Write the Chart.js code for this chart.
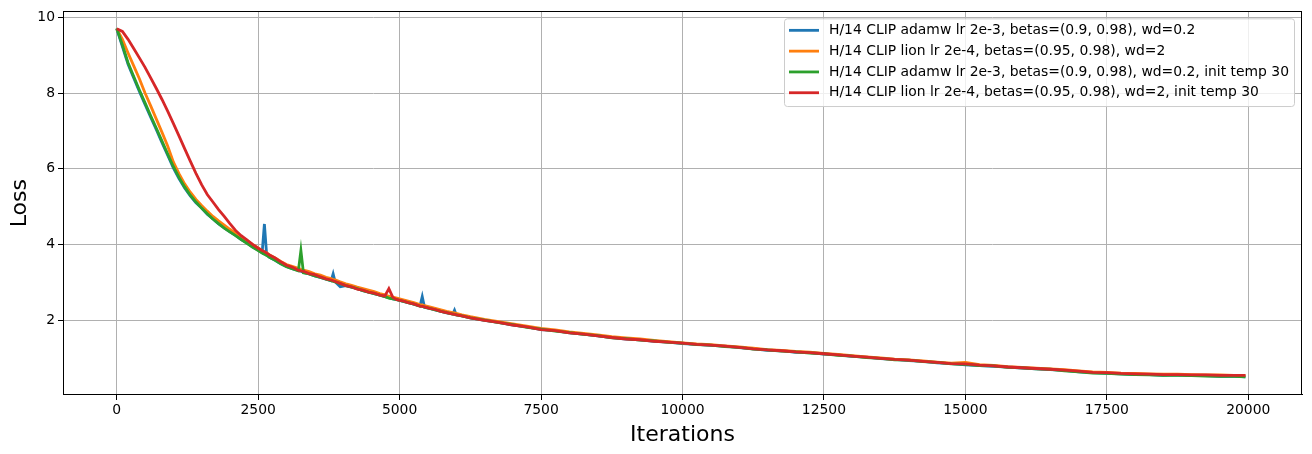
<!DOCTYPE html>
<html><head><meta charset="utf-8">
<script src="https://cdn.jsdelivr.net/npm/chart.js@4.4.1/dist/chart.umd.min.js"></script>
<style>html,body{margin:0;padding:0;background:#fff;}#wrap{width:1312px;height:454px;}</style>
</head><body><div id="wrap"><canvas id="c" width="1312" height="454"></canvas></div>
<script>
const iterations = [0,100,200,300,400,500,600,700,800,900,1000,1100,1200,1300,1400,1500,1600,1700,1800,1900,2000,2100,2200,2300,2400,2500,
2570,2610,2650,2700,2800,2900,3000,3100,3210,3255,3300,3400,3500,3600,3700,3790,3825,3860,3950,4050,4150,4250,4350,4450,4550,4650,4740,4810,4880,4950,5050,5150,5250,5360,5400,5440,5530,5630,5730,5830,5940,5970,6000,6100,6250,
6500,6750,7000,7250,7500,7750,8000,8250,8500,8750,9000,9250,9500,9750,10000,10250,10500,10750,11000,11250,11500,11750,12000,12250,12500,12750,13000,13250,13500,13750,14000,14250,14500,14750,15000,15250,15500,15750,16000,16250,16500,16750,17000,17250,17500,17750,18000,18250,18500,18750,19000,19250,19500,19750,19950];

const lossAdamw = [9.70,9.23,8.76,8.40,8.04,7.70,7.36,7.03,6.69,6.36,6.02,5.74,5.49,5.28,5.10,4.96,4.80,4.67,4.54,4.44,4.33,4.24,4.13,4.04,3.93,3.85,
3.78,4.54,3.72,3.66,3.58,3.49,3.42,3.36,3.31,3.29,3.26,3.22,3.17,3.13,3.08,3.04,3.22,3.01,2.88,2.91,2.87,2.83,2.78,2.74,2.70,2.66,2.62,2.59,2.56,2.54,2.50,2.46,2.42,2.37,2.62,2.34,2.31,2.27,2.23,2.19,2.16,2.26,2.14,2.11,2.06,
1.99,1.94,1.87,1.82,1.75,1.72,1.66,1.63,1.58,1.54,1.50,1.48,1.44,1.42,1.38,1.36,1.33,1.31,1.27,1.24,1.20,1.19,1.15,1.14,1.10,1.08,1.04,1.02,0.98,0.96,0.93,0.91,0.87,0.85,0.82,0.80,0.78,0.76,0.73,0.71,0.69,0.67,0.63,0.61,0.59,0.58,0.56,0.56,0.54,0.55,0.53,0.53,0.51,0.52,0.50];

const lossLion = [9.70,9.42,9.06,8.72,8.38,8.00,7.66,7.31,6.96,6.60,6.18,5.87,5.60,5.38,5.19,5.03,4.88,4.74,4.62,4.51,4.40,4.30,4.20,4.10,4.00,3.91,
3.83,3.80,3.78,3.72,3.64,3.55,3.47,3.42,3.37,3.34,3.32,3.28,3.22,3.19,3.13,3.10,3.07,3.06,3.01,2.96,2.92,2.87,2.83,2.79,2.75,2.70,2.67,2.63,2.61,2.58,2.54,2.50,2.46,2.41,2.40,2.38,2.35,2.31,2.27,2.23,2.20,2.19,2.18,2.14,2.09,
2.02,1.96,1.90,1.84,1.78,1.74,1.69,1.65,1.61,1.56,1.53,1.50,1.46,1.43,1.40,1.37,1.35,1.32,1.29,1.26,1.22,1.20,1.17,1.15,1.12,1.09,1.06,1.03,1.00,0.97,0.95,0.92,0.89,0.86,0.88,0.82,0.80,0.77,0.75,0.73,0.71,0.69,0.66,0.63,0.62,0.60,0.59,0.58,0.57,0.57,0.56,0.55,0.55,0.54,0.54];

const lossAdamwTemp = [9.71,9.27,8.80,8.44,8.08,7.74,7.40,7.07,6.73,6.39,6.06,5.77,5.52,5.30,5.12,4.96,4.81,4.67,4.55,4.43,4.33,4.23,4.13,4.03,3.93,3.84,
3.77,3.74,3.71,3.66,3.58,3.49,3.41,3.36,3.30,3.84,3.25,3.22,3.17,3.13,3.08,3.04,3.02,3.01,2.96,2.91,2.87,2.83,2.78,2.74,2.70,2.66,2.62,2.58,2.56,2.54,2.50,2.46,2.42,2.37,2.36,2.34,2.31,2.27,2.23,2.20,2.16,2.15,2.14,2.11,2.06,
2.00,1.93,1.88,1.81,1.76,1.71,1.67,1.62,1.59,1.53,1.51,1.47,1.45,1.41,1.39,1.35,1.34,1.30,1.28,1.23,1.21,1.18,1.16,1.13,1.11,1.07,1.05,1.01,0.99,0.95,0.94,0.90,0.88,0.84,0.83,0.80,0.79,0.75,0.74,0.71,0.70,0.66,0.63,0.60,0.59,0.57,0.56,0.55,0.54,0.54,0.53,0.52,0.51,0.51,0.50];

const lossLionTemp = [9.70,9.63,9.42,9.18,8.93,8.68,8.40,8.12,7.83,7.52,7.20,6.87,6.53,6.20,5.88,5.58,5.32,5.12,4.92,4.74,4.55,4.37,4.23,4.12,4.00,3.90,
3.84,3.81,3.77,3.72,3.64,3.54,3.45,3.40,3.32,3.30,3.29,3.23,3.20,3.14,3.09,3.06,3.04,3.02,2.97,2.91,2.88,2.82,2.79,2.74,2.71,2.66,2.64,2.83,2.60,2.54,2.51,2.46,2.43,2.37,2.36,2.35,2.31,2.28,2.23,2.20,2.16,2.15,2.14,2.11,2.06,
1.99,1.94,1.87,1.82,1.75,1.72,1.66,1.63,1.58,1.54,1.50,1.48,1.44,1.42,1.39,1.36,1.34,1.31,1.28,1.24,1.21,1.19,1.16,1.14,1.11,1.08,1.05,1.02,0.99,0.96,0.94,0.91,0.88,0.85,0.84,0.81,0.79,0.76,0.74,0.72,0.70,0.68,0.65,0.62,0.61,0.59,0.58,0.57,0.56,0.56,0.55,0.55,0.54,0.54,0.54];

const seriesLabels = [
  "H/14 CLIP adamw lr 2e-3, betas=(0.9, 0.98), wd=0.2",
  "H/14 CLIP lion lr 2e-4, betas=(0.95, 0.98), wd=2",
  "H/14 CLIP adamw lr 2e-3, betas=(0.9, 0.98), wd=0.2, init temp 30",
  "H/14 CLIP lion lr 2e-4, betas=(0.95, 0.98), wd=2, init temp 30"
];
const seriesColors = ["#1f77b4","#ff7f0e","#2ca02c","#d62728"];
const xTicks = [0,2500,5000,7500,10000,12500,15000,17500,20000];
const yTicks = [2,4,6,8,10];

const seriesValues = [lossAdamw, lossLion, lossAdamwTemp, lossLionTemp];
const FONT = '"DejaVu Sans", sans-serif';

const datasets = seriesValues.map((vals, k) => ({
  label: seriesLabels[k],
  data: iterations.map((x, i) => ({x: x, y: vals[i]})),
  borderColor: seriesColors[k],
  backgroundColor: seriesColors[k],
  borderWidth: 2.8,
  pointRadius: 0,
  tension: 0,
  fill: false,
  order: 3 - k
}));

const framePlugin = {
  id: 'frame',
  afterDatasetsDraw(chart) {
    const a = chart.chartArea, ctx = chart.ctx;
    ctx.save();
    ctx.strokeStyle = '#000';
    ctx.lineWidth = 1;
    ctx.strokeRect(Math.round(a.left) + 0.5, Math.round(a.top) + 0.5, Math.round(a.right - a.left) - 1, Math.round(a.bottom - a.top) - 1);
    ctx.restore();
  }
};

const legendPlugin = {
  id: 'mplLegend',
  afterDraw(chart) {
    const a = chart.chartArea, ctx = chart.ctx;
    ctx.save();
    ctx.font = '13.9px ' + FONT;
    let maxW = 0;
    seriesLabels.forEach(t => { maxW = Math.max(maxW, ctx.measureText(t).width); });
    const right = a.right - 8, top = a.top + 7;
    const textOff = 45, rowH = 20.8;
    const w = maxW + textOff + 5, h = rowH * 4 + 4.5;
    const left = right - w;
    ctx.beginPath();
    if (ctx.roundRect) ctx.roundRect(left + 0.5, top + 0.5, w, h, 3); else ctx.rect(left + 0.5, top + 0.5, w, h);
    ctx.fillStyle = 'rgba(255,255,255,0.8)';
    ctx.fill();
    ctx.strokeStyle = '#cccccc';
    ctx.lineWidth = 1;
    ctx.stroke();
    ctx.textBaseline = 'middle';
    ctx.textAlign = 'left';
    seriesLabels.forEach((t, k) => {
      const y = top + 12 + k * rowH;
      ctx.strokeStyle = seriesColors[k];
      ctx.lineWidth = 2.8;
      ctx.beginPath();
      ctx.moveTo(left + 5, y);
      ctx.lineTo(left + 35, y);
      ctx.stroke();
      ctx.fillStyle = '#000';
      ctx.fillText(t, left + textOff, y);
    });
    ctx.restore();
  }
};

new Chart(document.getElementById('c'), {
  type: 'line',
  data: { datasets: datasets },
  plugins: [framePlugin, legendPlugin],
  options: {
    responsive: false,
    animation: false,
    devicePixelRatio: 1,
    layout: { padding: { top: 10, right: 10, left: 0, bottom: 0 } },
    plugins: { legend: { display: false }, tooltip: { enabled: false } },
    scales: {
      x: {
        type: 'linear', min: -950, max: 20950,
        afterBuildTicks: s => { s.ticks = xTicks.map(v => ({ value: v })); },
        afterFit: s => { s.height = 59; },
        ticks: { color: '#000', font: { family: FONT, size: 13.9 }, maxRotation: 0, autoSkip: false, padding: 2, callback: v => String(v) },
        grid: { color: '#b0b0b0', lineWidth: 1, tickColor: '#000', tickLength: 5, drawTicks: true },
        border: { display: true, color: '#000', width: 1 },
        title: { display: true, text: 'Iterations', color: '#000', font: { family: FONT, size: 22 }, padding: { top: 0, bottom: 6 } }
      },
      y: {
        type: 'linear', min: 0.02, max: 10.16,
        afterBuildTicks: s => { s.ticks = yTicks.map(v => ({ value: v })); },
        afterFit: s => { s.width = 63; },
        ticks: { color: '#000', font: { family: FONT, size: 13.9 }, padding: 3, callback: v => String(v) },
        grid: { color: '#b0b0b0', lineWidth: 1, tickColor: '#000', tickLength: 5, drawTicks: true },
        border: { display: true, color: '#000', width: 1 },
        title: { display: true, text: 'Loss', color: '#000', font: { family: FONT, size: 22 }, padding: { top: 7, bottom: 0 } }
      }
    }
  }
});
</script>
</body></html>
